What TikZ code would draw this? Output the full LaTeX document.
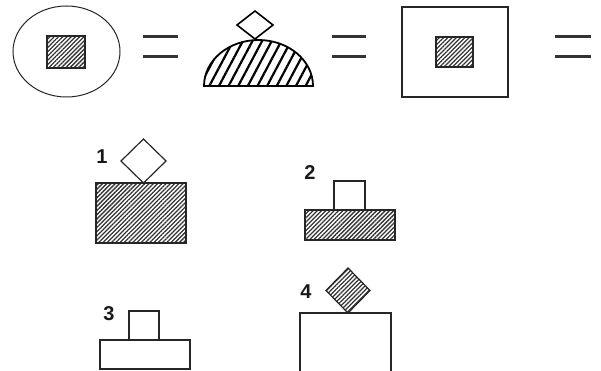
\documentclass[tikz,border=0pt]{standalone}
\usepackage{fontspec}
\setmainfont{Liberation Sans}
\usetikzlibrary{patterns.meta}
\begin{document}
\begin{tikzpicture}[x=1pt,y=-1pt,
  outl/.style={draw=black!85, line width=1.2pt},
  densehatch/.style={pattern={Lines[angle=45,distance=3pt,line width=1.3pt]}, pattern color=black!80},
  widehatch/.style={pattern={Lines[angle=62,distance=8.5pt,line width=2.2pt]}, pattern color=black},
  eqbar/.style={draw=black!80, line width=3pt},
  num/.style={font=\fontsize{20}{20}\selectfont\bfseries, inner sep=0pt, text=black!90}]
\useasboundingbox (0,0) rectangle (601,371);
% top row
\draw[outl, line width=1pt] (66.5,51.5) ellipse [x radius=53.5, y radius=45.5];
\draw[outl, densehatch] (47,36) rectangle (85,68);
\draw[eqbar] (143,37) -- (178,37);
\draw[eqbar] (143,57) -- (178,57);
% dome
\draw[line width=1.8pt, widehatch] (204,86) arc[start angle=180, end angle=0, x radius=54.5, y radius=-46] -- cycle;
\draw[line width=1.6pt] (255,39) -- (273,25) -- (255,11) -- (237,25) -- cycle;
\draw[eqbar] (332,37) -- (366,37);
\draw[eqbar] (332,57) -- (366,57);
\draw[outl] (402,7) rectangle (508,97);
\draw[outl, densehatch] (436,37) rectangle (473,67);
\draw[eqbar] (555,37) -- (591,37);
\draw[eqbar] (555,57) -- (591,57);
% 1
\node[num] (n1) at (102,157) {1};
\draw[outl, densehatch] (96,183) rectangle (186,243);
\draw[outl] (143.5,183) -- (166,161) -- (143.5,139) -- (121,161) -- cycle;
% 2
\node[num] (n2) at (310,173) {2};
\draw[outl] (334,210) -- (334,181) -- (365,181) -- (365,210);
\draw[outl, densehatch] (305,210) rectangle (395,240);
% 3
\node[num] (n3) at (109,314) {3};
\draw[outl] (129,340) -- (129,311) -- (159,311) -- (159,340);
\draw[outl] (100,340) rectangle (190,369);
% 4
\node[num] (n4) at (306,292) {4};
\draw[outl] (300,380) -- (300,313) -- (391,313) -- (391,380);
\draw[outl, densehatch] (348,313) -- (370,290.5) -- (348,268) -- (326,290.5) -- cycle;
\end{tikzpicture}
\end{document}
